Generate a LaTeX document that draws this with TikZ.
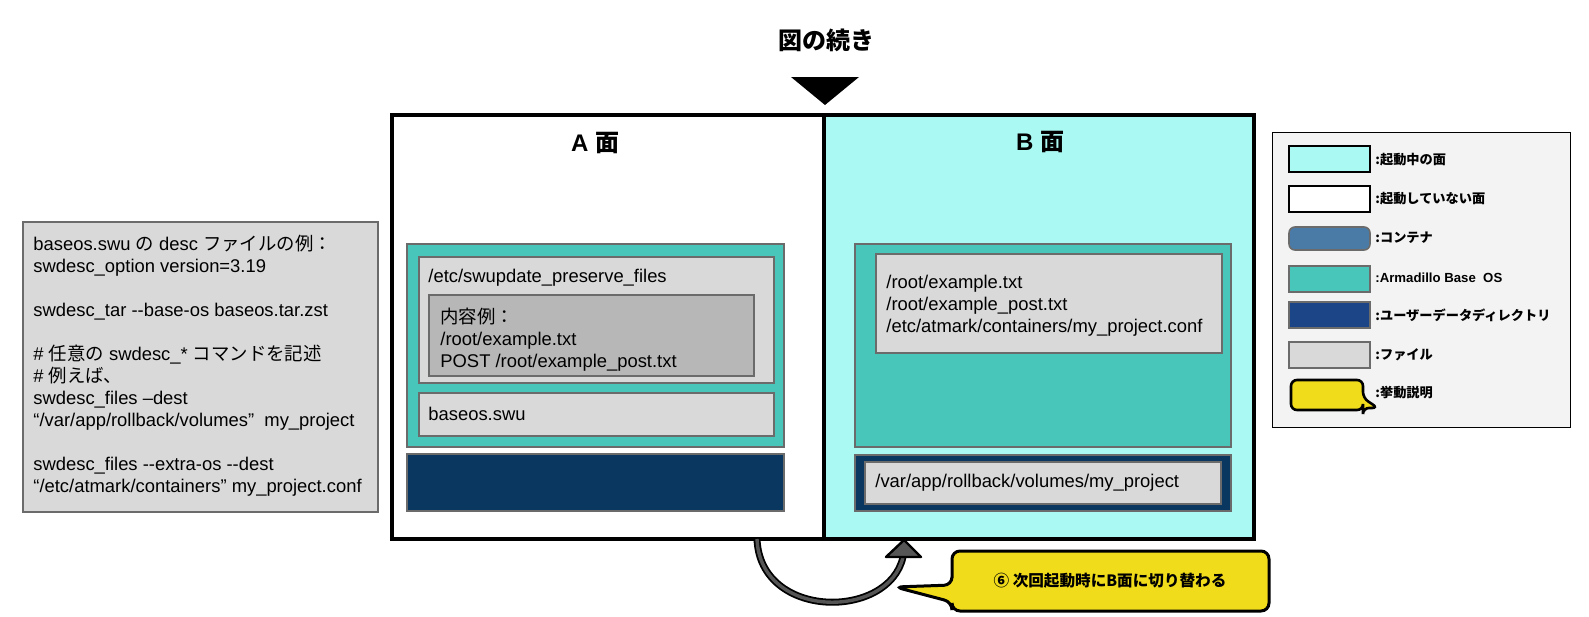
\documentclass[tikz,border=0pt]{standalone}
\usepackage{fontspec}
\setmainfont{Liberation Sans}
\newfontfamily\ja{Noto Sans CJK JP}

\definecolor{faceon}{HTML}{AAF9F3}
\definecolor{baseos}{HTML}{48C6BA}
\definecolor{userdata}{HTML}{0A3760}
\definecolor{userdatakey}{HTML}{1C4587}
\definecolor{container}{HTML}{4A7BA7}
\definecolor{filebox}{HTML}{D9D9D9}
\definecolor{listbox}{HTML}{B7B7B7}
\definecolor{keybg}{HTML}{F3F3F3}
\definecolor{note}{HTML}{F0DC1A}
\definecolor{edge}{HTML}{6B6B6B}
\definecolor{flipgray}{HTML}{555555}

\tikzset{
  part/.style={draw=edge, line width=0.8pt},
  face/.style={draw=black, line width=1.6pt},
  notebox/.style={draw=black, fill=note, line width=1.5pt, rounded corners=4pt},
  txt/.style={anchor=north west, inner sep=0, align=left, font={\fontsize{9.2}{11}\selectfont}},
  facetitle/.style={inner sep=0, font={\bfseries\fontsize{12}{14}\selectfont}},
  keylabel/.style={anchor=west, inner sep=0, font={\bfseries\fontsize{6.6}{8}\selectfont}},
}
\newcommand{\fl}{\rule{0pt}{8.5pt}}

\begin{document}
\begin{tikzpicture}[x=0.5pt, y=-0.5pt]
\useasboundingbox (0,0) rectangle (1589,616);

% title and marker
\node[facetitle, font={\ja\bfseries\fontsize{12}{14}\selectfont}] (title) at (826,40) {図の続き};
\fill (791,77) -- (859,77) -- (825,105) -- cycle;

% desc file
\draw[part, line width=1pt, fill=filebox] (23,222) rectangle (378,512);
\node[txt] (desc) at (33,233) {\fl baseos.swu {\ja の} desc {\ja ファイルの例：}\\
swdesc\_option version=3.19\\[11pt]
swdesc\_tar -{}-base-os baseos.tar.zst\\[11pt]
\# {\ja 任意の} swdesc\_* {\ja コマンドを記述}\\
\# {\ja 例えば、}\\
swdesc\_files –dest\\
“/var/app/rollback/volumes”~ my\_project\\[11pt]
swdesc\_files -{}-extra-os -{}-dest\\
“/etc/atmark/containers” my\_project.conf};

% faces
\draw[face, fill=white] (392,115) rectangle (824,539);
\draw[face, fill=faceon] (824,115) rectangle (1254,539);
\node[facetitle] (atitle) at (595,143) {A {\ja 面}};
\node[facetitle] (btitle) at (1040,142) {B {\ja 面}};

% A side
\draw[part, fill=baseos] (407,244) rectangle (784,447);
\draw[part, fill=filebox] (419,257) rectangle (774,383);
\node[txt] (preserve) at (428,265) {\fl/etc/swupdate\_preserve\_files};
\draw[part, fill=listbox] (429,295) rectangle (754,376);
\node[txt] (preservelist) at (440,306) {\fl{\ja 内容例：}\\/root/example.txt\\POST /root/example\_post.txt};
\draw[part, fill=filebox] (419,393) rectangle (774,436);
\node[txt] (swu) at (428,403) {\fl baseos.swu};
\draw[part, fill=userdata] (407,454) rectangle (784,511);

% B side
\draw[part, fill=baseos] (855,244) rectangle (1231,447);
\draw[part, fill=filebox] (876,254) rectangle (1222,353);
\node[txt] (blist) at (886,271) {\fl/root/example.txt\\/root/example\_post.txt\\/etc/atmark/containers/my\_project.conf};
\draw[part, fill=userdata] (855,455) rectangle (1231,511);
\draw[part, fill=filebox] (865,462) rectangle (1221,504);
\node[txt] (bvol) at (875,470) {\fl/var/app/rollback/volumes/my\_project};

% switch to B
\coordinate (flipfrom) at (757,539);
\coordinate (flipbase) at (903,557);
\coordinate (flipto) at (904,540);
\draw[line width=3.5pt] (flipfrom) .. controls (760,620) and (889,620) .. (flipbase);
\draw[line width=1.7pt, flipgray] (flipfrom) .. controls (760,620) and (889,620) .. (flipbase);
\filldraw[fill=flipgray, line width=1.2pt, line join=round] (886,557) -- (921,557) -- (flipto) -- cycle;

\draw[notebox] (952,570) -- (952,551) -- (1269,551) -- (1269,611) -- (952,611) -- (952,602) -- (895,587) -- (952,585) -- cycle;
\node[inner sep=0, font={\ja\bfseries\fontsize{7.8}{9}\selectfont}] (note) at (1110,581) {⑥ 次回起動時にB面に切り替わる};

% legend
\draw[line width=0.5pt, fill=keybg] (1272,132) rectangle (1570,427);
\draw[face, line width=1.4pt, fill=faceon] (1289,146) rectangle (1370,172);
\draw[face, line width=1.4pt, fill=white] (1289,186) rectangle (1370,212);
\draw[part, fill=container, rounded corners=3pt] (1289,227) rectangle (1370,250);
\draw[part, fill=baseos] (1289,266) rectangle (1370,292);
\draw[part, fill=userdatakey] (1289,302) rectangle (1370,328);
\draw[part, fill=filebox] (1289,342) rectangle (1370,368);
\draw[notebox, line width=1.3pt, rounded corners=3pt] (1291,395) -- (1291,380) -- (1363,380) -- (1363,398) -- (1378,408) -- (1363,408) -- (1363,410) -- (1291,410) -- cycle;
\node[keylabel] (keyon) at (1375,160) {\ja :起動中の面};
\node[keylabel] (keyoff) at (1375,199) {\ja :起動していない面};
\node[keylabel] (keycont) at (1375,238) {\ja :コンテナ};
\node[keylabel] (keyos) at (1375,278) {:Armadillo Base~ OS};
\node[keylabel] (keydata) at (1375,315) {\ja :ユーザーデータディレクトリ};
\node[keylabel] (keyfile) at (1375,355) {\ja :ファイル};
\node[keylabel] (keynote) at (1375,393) {\ja :挙動説明};
\end{tikzpicture}
\end{document}
